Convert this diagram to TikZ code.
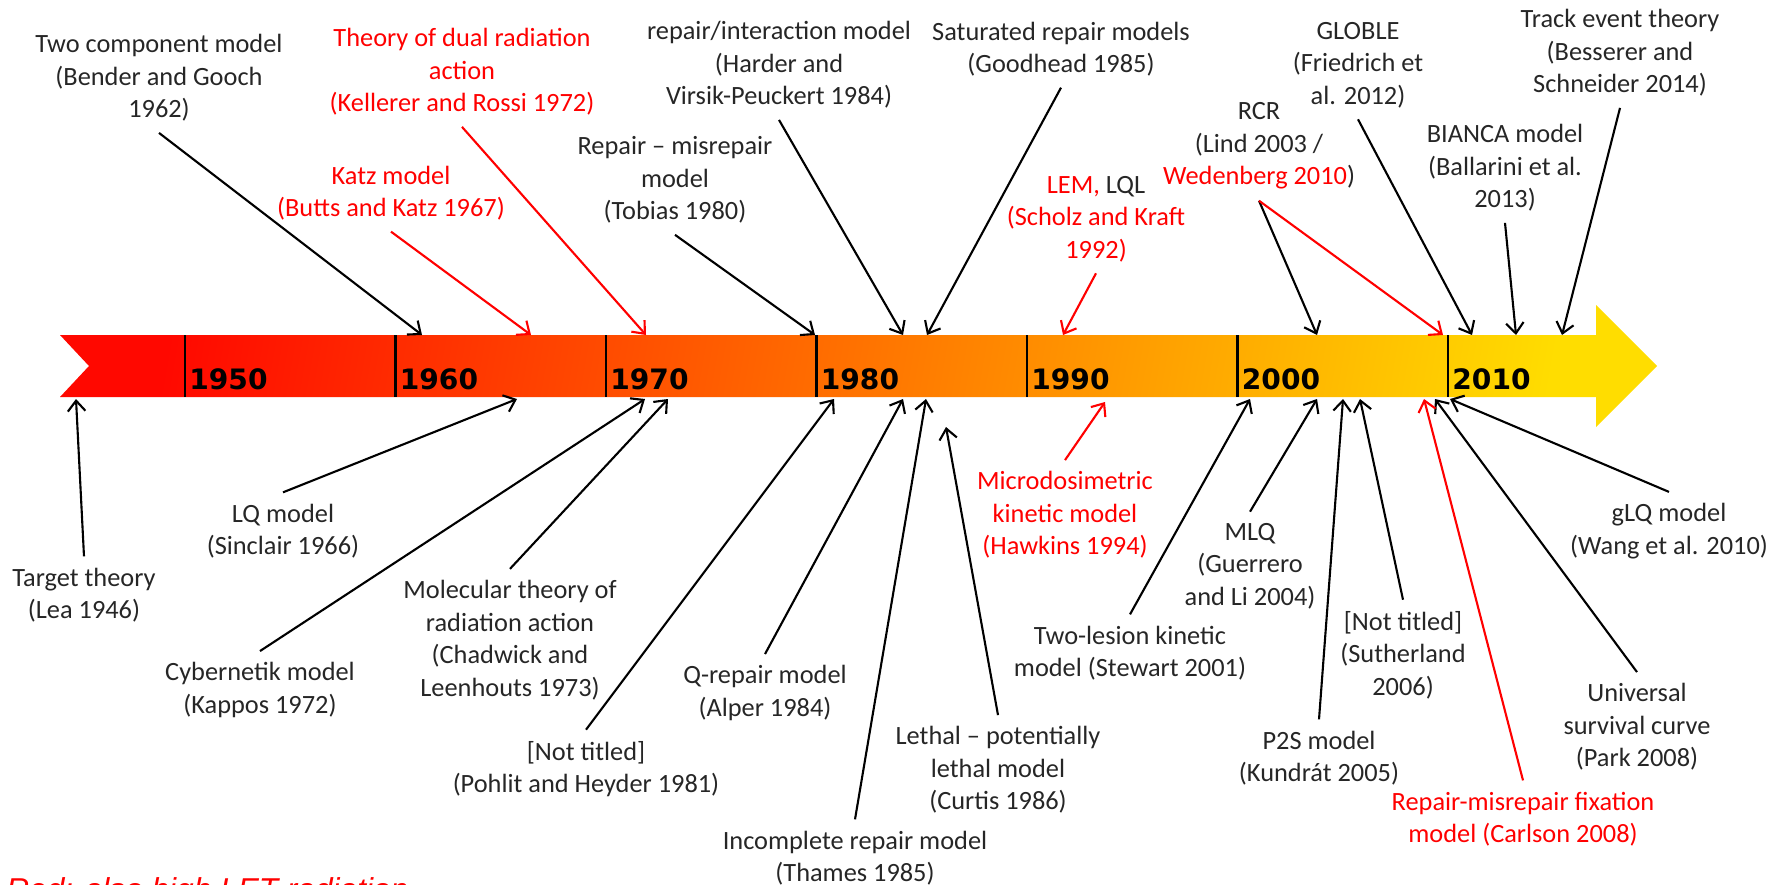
\documentclass[tikz,border=0pt]{standalone}
\usepackage{fontspec}
\setmainfont{Carlito}
\newfontfamily\yearfont{DejaVu Sans}
\newfontfamily\notefont{Liberation Sans}
\usetikzlibrary{arrows.meta}
\definecolor{ink}{HTML}{262626}
\definecolor{hot}{HTML}{FF0000}
\definecolor{barred}{HTML}{FF0800}
\definecolor{baryellow}{HTML}{FFDD00}

\begin{document}
\begin{tikzpicture}[x=0.02cm,y=-0.02cm,>={Straight Barb[length=6pt,width=10pt]},
    lbl/.style={align=center,text=ink,font=\fontsize{15}{18.5}\selectfont,inner sep=1pt,outer sep=5.5pt},
    redlbl/.style={lbl,text=hot},
    conn/.style={->,line width=1.2pt,draw=black},
    redconn/.style={conn,draw=hot},
    yearlbl/.style={anchor=base west,inner sep=0pt,text=black,font=\yearfont\bfseries\fontsize{16}{16}\selectfont},
    yeartick/.style={line width=1.2pt,draw=black}]
  \useasboundingbox (0,0) rectangle (1787,885);

  % timeline arrow
  \shade[left color=barred,right color=baryellow,shading angle=80] (60,335) -- (1596,335) -- (1596,305) -- (1657,366) -- (1596,427) -- (1596,397) -- (60,397) -- (89,366) -- cycle;
  \foreach \yr [count=\i from 0] in {1950,1960,1970,1980,1990,2000,2010} {
    \draw[yeartick] (185+210.5*\i,335) -- (185+210.5*\i,397);
    \node[yearlbl] (y\yr) at (189+210.5*\i,389) {\yr};
  }

  % models above the timeline
  \node[lbl] (twocomp) at (159,78) {Two component model\\(Bender and Gooch\\1962)};
  \node[redlbl] (dual) at (462,72) {Theory of dual radiation\\action\\(Kellerer and Rossi 1972)};
  \node[redlbl] (katz) at (391,193) {Katz model\\(Butts and Katz 1967)};
  \node[lbl] (tobias) at (675,180) {Repair -- misrepair\\model\\(Tobias 1980)};
  \node[lbl] (harder) at (779,65) {repair/interaction model\\(Harder and\\Virsik-Peuckert 1984)};
  \node[lbl] (goodhead) at (1061,49) {Saturated repair models\\(Goodhead 1985)};
  \node[redlbl] (lem) at (1096,219) {LEM, \textcolor{ink}{LQL}\\(Scholz and Kraft\\1992)};
  \node[lbl] (rcr) at (1259,146) {RCR\\(Lind 2003 /\\\textcolor{hot}{Wedenberg 2010})};
  \node[lbl] (globle) at (1358,65) {GLOBLE\\(Friedrich et\\al. 2012)};
  \node[lbl] (bianca) at (1505,168) {BIANCA model\\(Ballarini et al.\\2013)};
  \node[lbl] (track) at (1620,53) {Track event theory\\(Besserer and\\Schneider 2014)};

  % models below the timeline
  \node[lbl] (target) at (84,595) {Target theory\\(Lea 1946)};
  \node[lbl] (lq) at (283,531) {LQ model\\(Sinclair 1966)};
  \node[lbl] (cyber) at (260,690) {Cybernetik model\\(Kappos 1972)};
  \node[lbl] (molec) at (510,640) {Molecular theory of\\radiation action\\(Chadwick and\\Leenhouts 1973)};
  \node[lbl] (pohlit) at (586,769) {[Not titled]\\(Pohlit and Heyder 1981)};
  \node[lbl] (alper) at (765,693) {Q-repair model\\(Alper 1984)};
  \node[lbl] (thames) at (855,858) {Incomplete repair model\\(Thames 1985)};
  \node[lbl] (curtis) at (998,770) {Lethal -- potentially\\lethal model\\(Curtis 1986)};
  \node[redlbl] (hawkins) at (1065,515) {Microdosimetric\\kinetic model\\(Hawkins 1994)};
  \node[lbl] (stewart) at (1130,653) {Two-lesion kinetic\\model (Stewart 2001)};
  \node[lbl] (mlq) at (1250,566) {MLQ\\(Guerrero\\and Li 2004)};
  \node[lbl] (kundrat) at (1319,758) {P2S model\\(Kundrát 2005)};
  \node[lbl] (sutherland) at (1403,655) {[Not titled]\\(Sutherland\\2006)};
  \node[redlbl] (carlson) at (1523,819) {Repair-misrepair fixation\\model (Carlson 2008)};
  \node[lbl] (park) at (1637,727) {Universal\\survival curve\\(Park 2008)};
  \node[lbl] (wang) at (1669,531) {gLQ model\\(Wang et al. 2010)};

  \node[anchor=base west,inner sep=0pt,text=hot,font=\notefont\itshape\fontsize{18}{18}\selectfont] (note) at (6,900) {Red: also high LET radiation};

  % where the arrows meet the bar
  \foreach \nm/\hx in {twocomp/422,katz/531,dual/646,tobias/815,harder/903,goodhead/927,lem/1063,rcr/1317,rcrred/1443,globle/1472,bianca/1516,track/1562}
    \coordinate (top-\nm) at (\hx,335);
  \foreach \nm/\hx in {target/76,lq/517,cyber/645,molec/668,pohlit/834,alper/903,thames/926,stewart/1250,mlq/1317,kundrat/1343,sutherland/1360,carlson/1424,park/1435,wang/1450}
    \coordinate (bot-\nm) at (\hx,399);
  \coordinate (bot-curtis) at (946,427);
  \coordinate (bot-hawkins) at (1105,402);

  \foreach \nm in {twocomp,tobias,harder,goodhead,rcr,globle,bianca,track}
    \draw[conn] (\nm.south) -- (top-\nm);
  \foreach \nm in {katz,dual,lem}
    \draw[redconn] (\nm.south) -- (top-\nm);
  \draw[redconn] (rcr.south) -- (top-rcrred);
  \foreach \nm in {target,lq,cyber,molec,pohlit,alper,thames,curtis,stewart,mlq,kundrat,sutherland,park,wang}
    \draw[conn] (\nm.north) -- (bot-\nm);
  \foreach \nm in {hawkins,carlson}
    \draw[redconn] (\nm.north) -- (bot-\nm);
\end{tikzpicture}
\end{document}
